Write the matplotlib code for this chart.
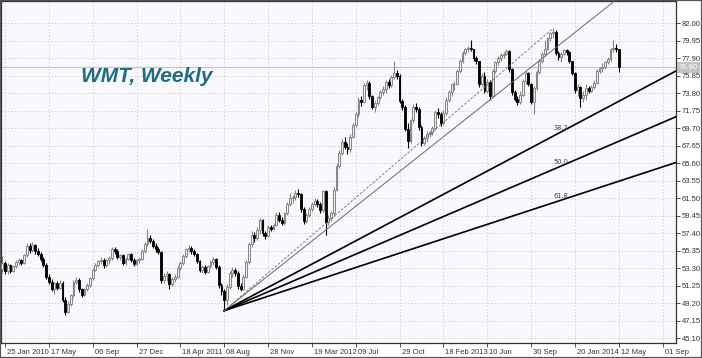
import numpy as np
import pandas as pd
import matplotlib
matplotlib.use("Agg")
import matplotlib.pyplot as plt
import matplotlib.dates as mdates
import matplotlib.transforms as mtransforms
from matplotlib.patches import Rectangle

# ---------------- data (weekly WMT candles, first week 18 Jan 2010) ----------------
first_week = "2010-01-18"

opens = [
    53.2, 53.9, 53.0, 53.6, 53.0, 53.5, 54.0, 54.2, 53.9, 54.8,
    55.9, 55.4, 56.0, 55.3, 55.0, 54.4, 53.7, 52.3, 51.7, 50.9,
    51.5, 51.0, 51.6, 49.6, 48.2, 49.1, 50.1, 51.7, 51.9, 50.8,
    50.2, 50.8, 51.3, 52.1, 53.1, 53.7, 54.1, 54.3, 53.6, 54.2,
    54.5, 55.5, 55.3, 54.6, 54.8, 53.9, 54.4, 54.9, 54.3, 53.8,
    54.2, 54.4, 55.3, 56.1, 56.8, 56.5, 55.9, 55.5, 55.2, 51.9,
    52.4, 52.6, 51.4, 52.0, 52.3, 53.3, 53.9, 54.7, 55.5, 55.7,
    55.3, 54.9, 54.1, 53.1, 53.4, 52.8, 53.5, 54.0, 54.4, 53.4,
    51.3, 50.6, 49.6, 51.1, 52.7, 53.1, 52.7, 51.2, 50.9, 52.3,
    54.0, 56.1, 57.2, 56.8, 57.8, 58.9, 57.4, 57.1, 58.1, 57.9,
    58.4, 59.5, 58.9, 58.6, 59.7, 60.8, 61.5, 61.6, 62.1, 62.0,
    60.2, 58.8, 59.5, 60.2, 60.8, 61.2, 60.8, 60.1, 62.3, 58.7,
    59.2, 59.7, 62.5, 65.3, 66.8, 68.1, 67.5, 67.2, 68.7, 70.0,
    71.3, 73.0, 72.8, 74.7, 75.0, 73.4, 72.2, 72.6, 73.3, 73.9,
    74.3, 75.1, 74.7, 75.7, 76.1, 75.8, 72.9, 72.2, 69.6, 68.2,
    70.6, 72.2, 71.9, 69.8, 67.9, 68.5, 69.0, 69.2, 69.7, 71.6,
    71.3, 70.3, 71.5, 73.0, 73.9, 74.8, 74.9, 76.4, 77.6, 78.5,
    78.9, 79.1, 78.9, 77.9, 77.5, 74.8, 75.8, 74.0, 75.1, 73.5,
    76.4, 77.4, 77.9, 78.3, 78.4, 78.7, 76.6, 73.9, 73.1, 72.7,
    73.6, 75.2, 76.1, 74.9, 72.8, 74.4, 76.3, 77.6, 78.4, 79.0,
    80.2, 80.8, 81.0, 78.5, 78.0, 78.4, 78.8, 78.6, 77.5, 76.1,
    74.1, 74.5, 73.2, 73.6, 74.4, 74.0, 74.5, 75.0, 76.4, 76.7,
    76.9, 77.4, 77.8, 78.9, 79.1, 78.9,
]
highs = [
    54.7, 54.1, 53.9, 53.8, 53.7, 54.3, 54.5, 54.4, 55.0, 56.2,
    56.2, 56.3, 56.1, 55.6, 55.2, 54.6, 53.9, 52.6, 52.0, 51.7,
    51.8, 51.9, 51.8, 49.9, 49.4, 50.3, 51.9, 52.3, 52.1, 51.0,
    51.0, 51.5, 52.3, 53.3, 53.9, 54.3, 54.6, 54.5, 54.4, 54.7,
    55.8, 55.8, 55.5, 55.0, 55.0, 54.6, 55.1, 55.1, 54.5, 54.4,
    54.6, 55.5, 56.3, 57.9, 57.2, 56.7, 56.2, 55.8, 55.3, 52.7,
    52.9, 52.7, 52.3, 52.6, 53.5, 54.1, 54.9, 55.7, 56.0, 55.9,
    55.5, 55.1, 54.3, 53.6, 53.6, 53.7, 54.2, 54.6, 54.5, 53.6,
    51.5, 50.9, 51.4, 53.0, 53.4, 53.3, 52.9, 51.5, 52.5, 54.3,
    56.4, 57.6, 57.5, 58.1, 59.2, 59.0, 57.6, 58.3, 58.4, 58.6,
    59.9, 59.9, 59.3, 59.9, 61.0, 62.1, 61.9, 62.4, 62.6, 62.1,
    60.4, 59.8, 60.4, 61.0, 61.5, 61.4, 61.0, 62.5, 62.4, 59.5,
    60.0, 62.8, 65.6, 67.1, 68.4, 68.7, 67.9, 69.0, 70.3, 71.6,
    73.3, 73.5, 75.0, 75.3, 75.2, 73.6, 72.9, 73.5, 74.2, 74.6,
    75.3, 75.4, 75.9, 77.5, 76.5, 76.0, 73.1, 72.4, 70.3, 70.8,
    72.5, 72.6, 72.2, 70.0, 68.8, 69.3, 69.4, 69.9, 71.8, 72.0,
    71.6, 71.8, 73.3, 74.2, 75.0, 75.2, 76.6, 77.8, 78.7, 79.1,
    79.3, 79.96, 79.0, 78.1, 77.6, 76.2, 76.3, 75.4, 75.3, 76.6,
    77.6, 78.1, 78.5, 78.6, 79.0, 78.8, 76.7, 74.2, 73.4, 74.0,
    75.4, 76.4, 76.3, 75.0, 74.6, 76.5, 77.8, 78.6, 80.0, 80.4,
    81.0, 81.37, 81.2, 78.7, 78.6, 79.0, 79.0, 78.7, 77.6, 76.3,
    74.9, 74.6, 74.0, 74.8, 74.6, 74.7, 75.3, 76.6, 76.9, 77.3,
    77.6, 78.0, 79.1, 80.0, 79.5, 79.0,
]
lows = [
    52.8, 52.6, 52.6, 52.7, 52.8, 53.3, 53.6, 53.7, 53.8, 54.6,
    55.1, 55.2, 55.0, 54.7, 54.1, 53.4, 52.0, 51.4, 50.6, 50.3,
    50.7, 50.8, 49.3, 47.8, 48.0, 48.9, 49.9, 51.4, 50.5, 49.9,
    50.0, 50.6, 51.1, 51.9, 52.9, 53.4, 53.8, 53.3, 53.4, 53.8,
    54.3, 55.0, 54.4, 54.2, 53.6, 53.6, 54.2, 54.0, 53.5, 53.6,
    53.9, 54.2, 55.1, 55.9, 56.2, 55.6, 55.2, 54.9, 51.6, 51.6,
    51.8, 50.9, 51.2, 51.7, 52.1, 53.1, 53.7, 54.5, 55.2, 55.0,
    54.7, 53.9, 52.8, 52.7, 52.6, 52.7, 53.3, 53.7, 53.2, 51.0,
    50.2, 48.31, 49.0, 50.9, 52.2, 52.4, 50.9, 50.6, 50.7, 52.1,
    53.8, 55.8, 56.4, 56.6, 57.3, 57.1, 56.7, 56.9, 57.6, 57.7,
    58.2, 58.7, 58.4, 58.4, 59.5, 60.6, 60.9, 61.3, 61.6, 59.9,
    58.5, 58.6, 59.3, 60.0, 60.6, 60.5, 59.8, 59.9, 57.2, 58.3,
    58.8, 59.4, 62.3, 65.0, 66.5, 67.2, 66.6, 66.9, 68.5, 69.8,
    71.0, 72.3, 72.6, 74.2, 73.1, 71.9, 71.6, 72.4, 73.1, 73.6,
    73.8, 74.4, 74.5, 75.4, 75.5, 72.6, 71.8, 69.3, 67.4, 67.9,
    70.3, 71.6, 69.5, 67.6, 67.7, 68.1, 68.6, 68.9, 69.5, 70.9,
    69.9, 70.1, 71.2, 72.8, 73.5, 74.2, 74.7, 76.1, 77.3, 78.2,
    78.6, 78.7, 77.6, 77.2, 74.5, 74.6, 73.8, 73.8, 73.0, 73.3,
    76.2, 77.1, 77.6, 77.9, 78.2, 76.3, 73.6, 72.9, 72.4, 72.5,
    73.4, 74.9, 74.6, 72.5, 71.4, 74.2, 76.0, 77.3, 78.1, 78.8,
    79.9, 80.3, 78.2, 77.7, 77.4, 78.2, 78.3, 77.3, 75.9, 73.8,
    73.4, 72.2, 72.8, 73.0, 73.8, 73.9, 74.3, 74.8, 76.1, 76.3,
    76.6, 77.2, 77.6, 78.6, 78.6, 76.3,
]
closes = [
    53.9, 53.0, 53.6, 53.0, 53.5, 54.0, 54.2, 53.9, 54.8, 55.9,
    55.4, 56.0, 55.3, 55.0, 54.4, 53.7, 52.3, 51.7, 50.9, 51.5,
    51.0, 51.6, 49.6, 48.2, 49.1, 50.1, 51.7, 51.9, 50.8, 50.2,
    50.8, 51.3, 52.1, 53.1, 53.7, 54.1, 54.3, 53.6, 54.2, 54.5,
    55.5, 55.3, 54.6, 54.8, 53.9, 54.4, 54.9, 54.3, 53.8, 54.2,
    54.4, 55.3, 56.1, 56.8, 56.5, 55.9, 55.5, 55.2, 51.9, 52.4,
    52.6, 51.4, 52.0, 52.3, 53.3, 53.9, 54.7, 55.5, 55.7, 55.3,
    54.9, 54.1, 53.1, 53.4, 52.8, 53.5, 54.0, 54.4, 53.4, 51.3,
    50.6, 49.6, 51.1, 52.7, 53.1, 52.7, 51.2, 50.9, 52.3, 54.0,
    56.1, 57.2, 56.8, 57.8, 58.9, 57.4, 57.1, 58.1, 57.9, 58.4,
    59.5, 58.9, 58.6, 59.7, 60.8, 61.5, 61.6, 62.1, 62.0, 60.2,
    58.8, 59.5, 60.2, 60.8, 61.2, 60.8, 60.1, 62.3, 58.7, 59.2,
    59.7, 62.5, 65.3, 66.8, 68.1, 67.5, 67.2, 68.7, 70.0, 71.3,
    73.0, 72.8, 74.7, 75.0, 73.4, 72.2, 72.6, 73.3, 73.9, 74.3,
    75.1, 74.7, 75.7, 76.1, 75.8, 72.9, 72.2, 69.6, 68.2, 70.6,
    72.2, 71.9, 69.8, 67.9, 68.5, 69.0, 69.2, 69.7, 71.6, 71.3,
    70.3, 71.5, 73.0, 73.9, 74.8, 74.9, 76.4, 77.6, 78.5, 78.9,
    79.1, 78.9, 77.9, 77.5, 74.8, 75.8, 74.0, 75.1, 73.5, 76.4,
    77.4, 77.9, 78.3, 78.4, 78.7, 76.6, 73.9, 73.1, 72.7, 73.6,
    75.2, 76.1, 74.9, 72.8, 74.4, 76.3, 77.6, 78.4, 79.0, 80.2,
    80.8, 81.0, 78.5, 78.0, 78.4, 78.8, 78.6, 77.5, 76.1, 74.1,
    74.5, 73.2, 73.6, 74.4, 74.0, 74.5, 75.0, 76.4, 76.7, 76.9,
    77.4, 77.8, 78.9, 79.1, 78.9, 76.8,
]

tick_dates = ["2010-01-25", "2010-05-17", "2010-09-06", "2010-12-27", "2011-04-18",
              "2011-08-08", "2011-11-28", "2012-03-19", "2012-07-09", "2012-10-29",
              "2013-02-18", "2013-06-10", "2013-09-30", "2014-01-20", "2014-05-12",
              "2014-09-01"]
tick_labels = ["25 Jan 2010", "17 May", "06 Sep", "27 Dec", "18 Apr 2011", "08 Aug",
               "28 Nov", "19 Mar 2012", "09 Jul", "29 Oct", "18 Feb 2013", "10 Jun",
               "30 Sep", "20 Jan 2014", "12 May", "01 Sep"]
price_ticks = [45.10, 47.15, 49.20, 51.25, 53.30, 55.35, 57.40, 59.45, 61.50, 63.55,
               65.60, 67.65, 69.70, 71.75, 73.80, 75.85, 77.90, 79.95, 82.00]

last_price = 76.80
fan_start = ("2011-08-08", 48.31)
fan_end = ("2013-11-25", 81.37)
fan_levels = [0.382, 0.500, 0.618]
fan_labels = ["38.2", "50.0", "61.8"]
trend_points = [("2011-08-08", 48.31), ("2013-06-17", 73.0)]
title = "WMT, Weekly"

# ---------------- figure ----------------
W, H = 702, 358
fig = plt.figure(figsize=(W / 100, H / 100), dpi=100)
fig.patch.set_facecolor("white")
ax = fig.add_axes([1 / W, 15 / H, 675 / W, 342 / H])
ax.set_facecolor("#f8f8fd")

dates = pd.date_range(first_week, periods=len(closes), freq="7D")
xd = mdates.date2num(dates.to_pydatetime())
o = np.array(opens); h = np.array(highs); l = np.array(lows); c = np.array(closes)
up = c >= o

bull_edge = "#858585"
ax.vlines(xd[up], l[up], h[up], color=bull_edge, lw=0.8, zorder=2)
ax.vlines(xd[~up], l[~up], h[~up], color="black", lw=0.8, zorder=2)
body_w = 4.8
ax.bar(xd[up], np.maximum(c[up] - o[up], 0.06), bottom=o[up], width=body_w,
       facecolor="#ececec", edgecolor=bull_edge, linewidth=0.7, zorder=3)
ax.bar(xd[~up], np.maximum(o[~up] - c[~up], 0.06), bottom=c[~up], width=body_w,
       facecolor="black", edgecolor="black", linewidth=0.6, zorder=3)

# axis limits
x_ref = mdates.date2num(pd.Timestamp("2010-01-25").to_pydatetime())
xmin, xmax = x_ref - 10.2, x_ref + 1714.3
ax.set_xlim(xmin, xmax)
ax.set_ylim(44.52, 84.58)

# current price line
ax.axhline(last_price, color="#c4c4c4", lw=0.8, zorder=1)

# fan lines
x1 = mdates.date2num(pd.Timestamp(fan_start[0]).to_pydatetime()); y1 = fan_start[1]
x2 = mdates.date2num(pd.Timestamp(fan_end[0]).to_pydatetime()); y2 = fan_end[1]
ax.plot([x1, x2], [y1, y2], color="#6a6a6a", lw=0.6, ls=(0, (3, 2)), zorder=4)
for lev, lab in zip(fan_levels, fan_labels):
    yl = y2 - lev * (y2 - y1)
    slope = (yl - y1) / (x2 - x1)
    ax.plot([x1, xmax], [y1, y1 + slope * (xmax - x1)], color="black", lw=1.2, zorder=4)
    xt = x2 + 21
    ax.text(xt, y1 + slope * (xt - x1) + 0.1, lab, fontsize=4.8, color="#444444",
            ha="center", va="bottom", zorder=5)

# trend line (ray)
tx1 = mdates.date2num(pd.Timestamp(trend_points[0][0]).to_pydatetime())
tx2 = mdates.date2num(pd.Timestamp(trend_points[1][0]).to_pydatetime())
ts = (trend_points[1][1] - trend_points[0][1]) / (tx2 - tx1)
ax.plot([tx1, xmax], [trend_points[0][1], trend_points[0][1] + ts * (xmax - tx1)],
        color="#6a6a6a", lw=0.7, zorder=4)

# ticks & grid
tick_x = mdates.date2num(pd.to_datetime(tick_dates).to_pydatetime())
ax.set_xticks(tick_x)
ax.set_xticklabels(tick_labels)
ax.set_yticks(price_ticks)
ax.set_yticklabels([f"{v:.2f}" for v in price_ticks])
ax.yaxis.tick_right()
ax.tick_params(axis="y", labelsize=5.5, labelcolor="#333333", length=3, width=0.6,
               pad=1, color="#333333")
ax.tick_params(axis="x", labelsize=5.5, labelcolor="#333333", length=3, width=0.6,
               pad=1, color="#333333")
offset = mtransforms.ScaledTranslation(2 / 100, 0, fig.dpi_scale_trans)
for t in ax.get_xticklabels():
    t.set_ha("left")
    t.set_transform(t.get_transform() + offset)
for t in ax.get_xticklabels() + ax.get_yticklabels():
    t.set_family("Liberation Sans")

ax.grid(True, color="#c6c6c6", lw=0.6, ls=(0, (1.5, 2.5)), zorder=0)
ax.set_axisbelow(True)
for s in ax.spines.values():
    s.set_color("#333333")
    s.set_linewidth(0.9)

# current price tag
tr = mtransforms.blended_transform_factory(ax.transAxes, ax.transData)
ax.text(1.004, last_price, f"{last_price:.2f}", transform=tr, fontsize=5.5,
        family="Liberation Sans", color="white", ha="left", va="center", clip_on=False,
        bbox=dict(boxstyle="square,pad=0.25", facecolor="#c2c2c2", edgecolor="none"),
        zorder=6)

# title
ax.text(0.216, 0.78, title, transform=ax.transAxes, fontsize=15, fontweight="bold",
        fontstyle="italic", family="Liberation Sans", color="#1f6d7e",
        ha="center", va="center", zorder=6)

# outer frame
fig.patches.append(Rectangle((0, 0), 1, 1, transform=fig.transFigure, fill=False,
                             edgecolor="#555555", lw=1.6))

fig.savefig("out.png", dpi=100)
